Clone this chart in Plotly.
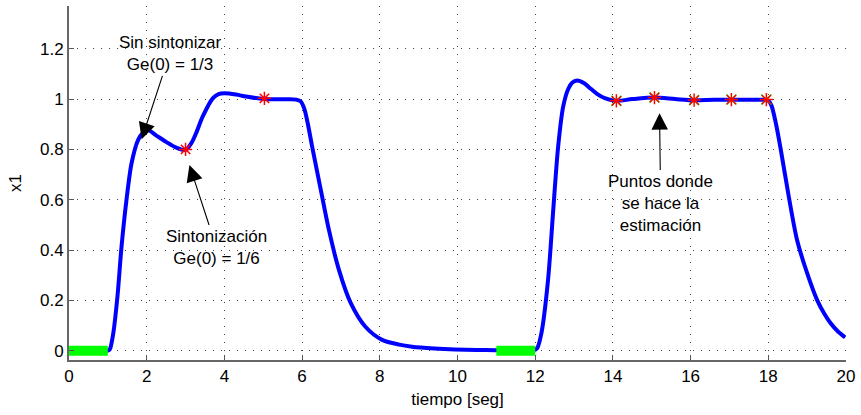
import plotly.graph_objects as go

# --- data ---
t = [0, 0.5, 1.0, 1.05, 1.14, 1.25, 1.35, 1.48, 1.61, 1.78, 1.9, 2.03, 2.25, 2.5, 2.75, 3.0,
     3.15, 3.27, 3.44, 3.7, 3.85, 4.0, 4.3, 4.56, 5.03, 5.5, 5.85, 5.97, 6.06, 6.15, 6.26,
     6.48, 6.69, 6.95, 7.25, 7.63, 8.06, 8.5, 8.83, 9.4, 9.94, 10.5, 10.97, 11.5, 11.95,
     12.05, 12.16, 12.33, 12.46, 12.59, 12.72, 12.85, 12.95, 13.08, 13.25, 13.44, 13.6,
     13.79, 14.08, 14.5, 15.07, 15.6, 16.09, 16.6, 17.05, 17.5, 17.9, 18.0, 18.08, 18.2,
     18.32, 18.53, 18.74, 19.0, 19.26, 19.45, 19.6, 19.8, 19.98]
x1 = [0, 0, 0, 0.005, 0.07, 0.22, 0.41, 0.6, 0.745, 0.838, 0.865, 0.877, 0.855, 0.83, 0.808,
      0.798, 0.825, 0.864, 0.93, 1.003, 1.02, 1.023, 1.018, 1.01, 1.0, 0.999, 0.998, 0.99,
      0.96, 0.9, 0.81, 0.64, 0.48, 0.32, 0.19, 0.095, 0.043, 0.024, 0.016, 0.009, 0.005,
      0.003, 0.002, 0.001, 0.001, 0.01, 0.07, 0.28, 0.55, 0.81, 0.97, 1.04, 1.065, 1.074,
      1.064, 1.04, 1.02, 1.004, 0.993, 1.0, 1.006, 1.0, 0.995, 0.997, 0.997, 0.997, 0.997,
      0.994, 0.975, 0.9, 0.80, 0.61, 0.44, 0.308, 0.2, 0.145, 0.11, 0.075, 0.053]

green1_t = [0, 1.0]
green2_t = [11.0, 12.0]
green_v = [0, 0]

est_t = [3.0, 5.03, 14.09, 15.07, 16.09, 17.05, 17.95]
est_v = [0.8, 1.003, 0.993, 1.006, 0.996, 0.998, 0.998]
grn_t = [14.09, 15.07, 16.09, 17.05, 17.95]
grn_v = [0.993, 1.006, 0.996, 0.998, 0.998]

xticks = list(range(0, 21, 2))
yticks = [0, 0.2, 0.4, 0.6, 0.8, 1.0, 1.2]
ytext = ["0", "0.2", "0.4", "0.6", "0.8", "1", "1.2"]

FONT = "Liberation Sans, Arial, sans-serif"
FS = 17

fig = go.Figure()
fig.add_trace(go.Scatter(x=t, y=x1, mode="lines",
                         line=dict(color="#0000ff", width=4, shape="spline", smoothing=0.8),
                         hoverinfo="skip"))
for gt in (green1_t, green2_t):
    fig.add_trace(go.Scatter(x=gt, y=green_v, mode="lines",
                             line=dict(color="#00ff00", width=10), hoverinfo="skip"))
fig.add_trace(go.Scatter(x=grn_t, y=grn_v, mode="markers",
                         marker=dict(symbol="x-thin-open", size=10, color="#00ff00",
                                     line=dict(color="#00ff00", width=1.5))))
fig.add_trace(go.Scatter(x=est_t, y=est_v, mode="markers",
                         marker=dict(symbol="asterisk-open", size=11, color="#ff0000",
                                     line=dict(color="#ff0000", width=1.5))))

def arrow(text, tx, ty, ax, ay):
    fig.add_annotation(x=tx, y=ty, ax=ax, ay=ay, xref="x", yref="y", axref="x", ayref="y",
                       text=text, showarrow=True, arrowhead=2, arrowsize=3,
                       arrowwidth=1.1, arrowcolor="black", standoff=0,
                       font=dict(family=FONT, size=FS, color="black"), align="center")

arrow("Sin sintonizar<br>Ge(0) = 1/3", 1.87, 0.84, 2.59, 1.18)
arrow("Sintonización<br>Ge(0) = 1/6", 3.10, 0.738, 3.79, 0.412)
arrow("Puntos donde<br>se hace la<br>estimación", 15.2, 0.944, 15.23, 0.587)

grid = dict(showgrid=True, gridcolor="#444444", griddash="1px,7px", gridwidth=1)
fig.update_xaxes(range=[0, 20], tickvals=xticks, ticks="inside", ticklen=5,
                 tickcolor="#555555", showline=True, linecolor="#666666", linewidth=2,
                 zeroline=False, mirror=False,
                 title=dict(text="tiempo [seg]", font=dict(family=FONT, size=FS), standoff=8),
                 tickfont=dict(family=FONT, size=FS, color="black"), **grid)
fig.update_yaxes(range=[-0.037, 1.37], tickvals=yticks, ticktext=ytext, ticks="inside",
                 ticklen=5, tickcolor="#555555", showline=True, linecolor="#666666",
                 linewidth=2, zeroline=False, mirror=False,
                 title=dict(text="x1", font=dict(family=FONT, size=FS), standoff=14),
                 tickfont=dict(family=FONT, size=FS, color="black"), **grid)
fig.update_layout(width=861, height=415, margin=dict(l=69, r=12, t=6, b=55),
                  plot_bgcolor="white", paper_bgcolor="white", showlegend=False,
                  font=dict(family=FONT, size=FS, color="black"))
fig.write_html("out.html")
